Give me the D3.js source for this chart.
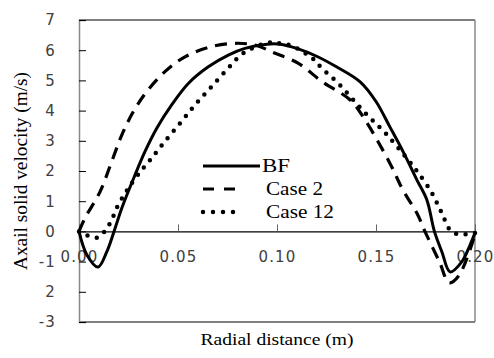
<!DOCTYPE html>
<html>
<head>
<meta charset="utf-8">
<script src="https://cdn.jsdelivr.net/npm/d3@7"></script>
<style>
  body { margin: 0; background: #fff; }
  .tick text { font-family: "DejaVu Sans", sans-serif; font-size: 15px; fill: #404040; letter-spacing: 1.2px; }
  .serif { font-family: "Liberation Serif", "Times New Roman", "DejaVu Serif", serif; fill: #000; }
</style>
</head>
<body>
<div id="chart"></div>
<script>
// radial distance (m) and axial solid velocity (m/s)
var bfR = [0, 0.004, 0.0096, 0.014, 0.0177, 0.0216, 0.0283, 0.0333, 0.0392, 0.0468, 0.0552, 0.0653, 0.0754, 0.0838, 0.095, 0.1015, 0.11, 0.12, 0.13, 0.142, 0.15, 0.157, 0.164, 0.1707, 0.1757, 0.1795, 0.1833, 0.1874, 0.1934, 0.1975, 0.2];
var bfV = [0, -0.78, -1.18, -0.68, 0, 0.77, 1.87, 2.64, 3.41, 4.19, 4.9, 5.45, 5.84, 6.06, 6.2, 6.2, 6.06, 5.8, 5.45, 4.95, 4.3, 3.46, 2.6, 1.7, 1.04, 0, -0.68, -1.34, -1.0, -0.45, -0.05];

var case2R = [0, 0.003, 0.0106, 0.0165, 0.0216, 0.0274, 0.0342, 0.0434, 0.0535, 0.067, 0.0805, 0.09, 0.0975, 0.1106, 0.123, 0.137, 0.1444, 0.157, 0.1636, 0.1707, 0.1747, 0.182, 0.187, 0.192, 0.2];
var case2V = [0, 0.44, 1.31, 2.31, 3.19, 3.96, 4.63, 5.29, 5.78, 6.12, 6.23, 6.15, 5.94, 5.57, 4.95, 4.35, 3.7, 2.26, 1.37, 0.6, 0, -1.0, -1.7, -1.45, -0.1];

var case12R = [0, 0.004, 0.0096, 0.014, 0.0167, 0.019, 0.0249, 0.0316, 0.0359, 0.0426, 0.051, 0.0586, 0.0662, 0.0745, 0.083, 0.095, 0.1, 0.1075, 0.1177, 0.1227, 0.131, 0.1434, 0.1555, 0.167, 0.171, 0.178, 0.183, 0.188, 0.193, 0.2];
var case12V = [0, -0.13, -0.2, 0.1, 0.41, 0.77, 1.43, 2.03, 2.36, 2.92, 3.58, 4.19, 4.74, 5.34, 5.9, 6.24, 6.24, 6.14, 5.74, 5.4, 4.9, 4.0, 3.2, 2.3, 1.97, 1.3, 0.64, 0, -0.1, -0.05];

var seriesNames = ["BF", "Case 2", "Case 12"];
var xTicks = [0, 0.05, 0.10, 0.15, 0.20];
var yTicks = [7, 6, 5, 4, 3, 2, 1, 0, -1, -2, -3];
var yTickLabels = ["7", "6", "5", "4", "3", "2", "1", "0", "-1", "2", "-3"];

var margin = {top: 20, right: 19, bottom: 36, left: 79},
    width = 494 - margin.left - margin.right,
    height = 358 - margin.top - margin.bottom;

var svg = d3.select("#chart")
  .append("svg")
  .attr("width", 494)
  .attr("height", 358)
  .append("g")
  .attr("transform", "translate(" + margin.left + "," + margin.top + ")");

var x = d3.scaleLinear().domain([0, 0.2]).range([0, width]);
var y = d3.scaleLinear().domain([-3, 7]).range([height, 0]);

// plot frame
svg.append("line").attr("x1", 0).attr("x2", width).attr("y1", 0).attr("y2", 0)
  .attr("stroke", "#000").attr("stroke-width", 1.2);
svg.append("line").attr("x1", 0).attr("x2", width).attr("y1", height).attr("y2", height)
  .attr("stroke", "#000").attr("stroke-width", 1.2);
svg.append("line").attr("x1", width).attr("x2", width).attr("y1", 0).attr("y2", height)
  .attr("stroke", "#888").attr("stroke-width", 1.5);

// Y axis, ticks pointing inside
var yAxis = svg.append("g")
  .call(d3.axisLeft(y).tickValues(yTicks).tickSize(-7).tickPadding(23)
    .tickFormat(function(d, i) { return yTickLabels[i]; }));
yAxis.select(".domain").attr("stroke", "#888").attr("stroke-width", 1.5);
yAxis.selectAll(".tick line").attr("stroke", "#000");

// X axis sits on zero line
var xAxis = svg.append("g")
  .attr("transform", "translate(0," + y(0) + ")")
  .call(d3.axisBottom(x).tickValues(xTicks).tickSize(-7).tickPadding(20).tickSizeOuter(0)
    .tickFormat(d3.format(".2f")));
xAxis.select(".domain").attr("stroke", "#000").attr("stroke-width", 1.2);
xAxis.selectAll(".tick line").attr("stroke", "#666");

function pts(rs, vs) {
  return rs.map(function(r, i) { return {r: r, v: vs[i]}; });
}

var line = d3.line()
  .x(function(d) { return x(d.r); })
  .y(function(d) { return y(d.v); })
  .curve(d3.curveCatmullRom.alpha(0.5));

var styles = [
  {data: pts(bfR, bfV), width: 3, dash: null, cap: "butt"},
  {data: pts(case2R, case2V), width: 3.2, dash: "12,8", cap: "butt"},
  {data: pts(case12R, case12V), width: 4.5, dash: "0,9.5", cap: "round"}
];

styles.forEach(function(s) {
  svg.append("path")
    .datum(s.data)
    .attr("fill", "none")
    .attr("stroke", "#000")
    .attr("stroke-width", s.width)
    .attr("stroke-dasharray", s.dash)
    .attr("stroke-linecap", s.cap)
    .attr("d", line);
});

// legend
var legendWidths = [28, 57, 68];
var legend = svg.append("g").attr("transform", "translate(" + (203 - margin.left) + "," + (166 - margin.top) + ")");
styles.forEach(function(s, i) {
  legend.append("line")
    .attr("x1", 0).attr("x2", s.dash ? 35 : 57)
    .attr("y1", i * 23).attr("y2", i * 23)
    .attr("stroke", "#000")
    .attr("stroke-width", s.width)
    .attr("stroke-dasharray", s.dash ? (i == 1 ? "11,10" : "0,10") : null)
    .attr("stroke-linecap", s.cap);
  legend.append("text")
    .attr("class", "serif")
    .attr("x", i == 0 ? 59 : 63)
    .attr("y", i * 23 + 6)
    .attr("textLength", legendWidths[i])
    .attr("lengthAdjust", "spacingAndGlyphs")
    .style("font-size", "18px")
    .text(seriesNames[i]);
});

// axis titles
svg.append("text")
  .attr("class", "serif")
  .attr("text-anchor", "middle")
  .attr("x", (277 - margin.left))
  .attr("y", 345 - margin.top)
  .attr("textLength", 153)
  .attr("lengthAdjust", "spacingAndGlyphs")
  .style("font-size", "17px")
  .text("Radial distance (m)");

svg.append("text")
  .attr("class", "serif")
  .attr("text-anchor", "middle")
  .attr("transform", "translate(" + (27 - margin.left) + "," + (171 - margin.top) + ") rotate(-90)")
  .attr("textLength", 198)
  .attr("lengthAdjust", "spacingAndGlyphs")
  .style("font-size", "19px")
  .text("Axail solid velocity (m/s)");
</script>
</body>
</html>
